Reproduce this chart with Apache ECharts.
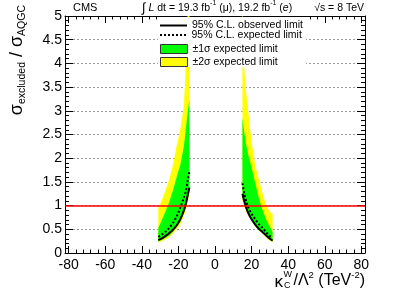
<!DOCTYPE html>
<html><head><meta charset="utf-8">
<script src="https://cdn.jsdelivr.net/npm/echarts@6/dist/echarts.min.js"></script>
<style>html,body{margin:0;padding:0;background:#fff}#c{width:407px;height:292px}</style>
</head><body><div id="c"></div>
<script>
// ---- data ----
const xMin = -82, xMax = 82;
const yMin = 0, yMax = 5, yStep = 0.5;
const refLine = 1;

const leftX        = [-31, -29, -27, -25, -23, -21, -19, -17, -16, -15, -14];
const leftYellowUp = [0.95, 1.12, 1.33, 1.55, 1.85, 2.25, 2.6, 3.1, 3.9, 5.0, 5.5];
const leftYellowLo = [0.22, 0.25, 0.29, 0.34, 0.41, 0.5, 0.6, 0.78, 0.9, 1.05, 1.3];
const leftGreenUp  = [0.52, 0.7, 0.88, 1.08, 1.32, 1.6, 1.85, 2.25, 2.6, 2.95, 3.25];
const leftGreenLo  = [0.25, 0.28, 0.32, 0.37, 0.45, 0.55, 0.66, 0.85, 0.98, 1.13, 1.35];
const leftObs      = [0.27, 0.31, 0.36, 0.42, 0.49, 0.58, 0.71, 0.9, 1.03, 1.2, 1.38];
const leftExp      = [0.34, 0.39, 0.45, 0.53, 0.63, 0.77, 0.95, 1.17, 1.3, 1.5, 1.72];

const rightX        = [15, 16, 17, 18, 20, 22, 24, 26, 28, 30, 31.5];
const rightYellowUp = [5.5, 3.9, 3.4, 3.05, 2.35, 1.85, 1.55, 1.25, 1.0, 0.87, 0.82];
const rightYellowLo = [1.12, 0.97, 0.88, 0.8, 0.68, 0.56, 0.47, 0.4, 0.32, 0.26, 0.23];
const rightGreenUp  = [2.85, 2.55, 2.3, 2.1, 1.8, 1.47, 1.15, 0.9, 0.7, 0.55, 0.45];
const rightGreenLo  = [1.2, 1.05, 0.93, 0.83, 0.69, 0.58, 0.49, 0.42, 0.35, 0.28, 0.25];
const rightObs      = [1.25, 1.09, 0.96, 0.86, 0.71, 0.6, 0.51, 0.44, 0.37, 0.3, 0.26];
const rightExp      = [1.47, 1.25, 1.1, 0.98, 0.83, 0.71, 0.61, 0.53, 0.44, 0.36, 0.32];

const names = {
  obs: '95% C.L. observed limit',
  exp: '95% C.L. expected limit',
  s1: '±1σ expected limit',
  s2: '±2σ expected limit'
};
// ---------------------------------------

const F = 'Liberation Sans, Arial, Helvetica, sans-serif';
const GREEN = '#00ff00', YELLOW = '#ffff00';
const DOTS = 'path://M0,0h2v2h-2zM4,0h2v2h-2zM8,0h2v2h-2zM12,0h2v2h-2zM16,0h2v2h-2zM20,0h2v2h-2zM24,0h2v2h-2z';

function pairs(xs, ys) { return xs.map((x, i) => [x, ys[i]]); }

function band(name, xs, lo, up, color) {
  return {
    type: 'custom', name, coordinateSystem: 'cartesian2d',
    itemStyle: { color }, clip: true, silent: true,
    data: [[xs[0], lo[0]]],
    renderItem: function (params, api) {
      const pts = [];
      for (let i = 0; i < xs.length; i++) pts.push(api.coord([xs[i], up[i]]));
      for (let i = xs.length - 1; i >= 0; i--) pts.push(api.coord([xs[i], lo[i]]));
      const cs = params.coordSys;
      return {
        type: 'polygon', shape: { points: pts }, style: { fill: color, stroke: null },
        clipPath: { type: 'rect', shape: { x: cs.x, y: cs.y, width: cs.width, height: cs.height } }
      };
    }
  };
}

function line(name, xs, ys, dashed) {
  return {
    type: 'line', name, data: pairs(xs, ys), symbol: 'none', smooth: 0.3,
    itemStyle: { color: '#000' },
    lineStyle: { color: '#000', width: 2, type: dashed ? [2, 2] : 'solid' },
    z: 3
  };
}

const axisLine = { show: true, onZero: false, lineStyle: { color: '#000', width: 1 } };

function leg(name, top, extra, h) {
  return {
    data: [Object.assign({ name }, extra || {})],
    left: 160, top, padding: 0, itemGap: 0, itemWidth: 27, itemHeight: h || 9,
    selectedMode: false, z: 5,
    textStyle: { fontSize: 10.5, fontFamily: F, color: '#000' }
  };
}

const chart = echarts.init(document.getElementById('c'), null, { renderer: 'canvas' });
chart.setOption({
  animation: false,
  backgroundColor: '#fff',
  grid: { left: 65, right: 42, top: 16, bottom: 39 },
  xAxis: [
    {
      type: 'value', min: xMin, max: xMax, splitNumber: 8, position: 'bottom',
      axisLine, splitLine: { show: false },
      axisTick: { show: true, inside: true, length: 7, lineStyle: { color: '#000' } },
      minorTick: { show: true, splitNumber: 5, length: 3.5, lineStyle: { color: '#000' } },
      axisLabel: { fontSize: 14, fontFamily: F, color: '#000', margin: 5, showMinLabel: false, showMaxLabel: false }
    },
    {
      type: 'value', min: xMin, max: xMax, splitNumber: 8, position: 'top',
      axisLine, splitLine: { show: false },
      axisTick: { show: true, inside: true, length: 7, lineStyle: { color: '#000' } },
      minorTick: { show: true, splitNumber: 5, length: 3.5, lineStyle: { color: '#000' } },
      axisLabel: { show: false }
    }
  ],
  yAxis: [
    {
      type: 'value', min: yMin, max: yMax, interval: yStep, position: 'left',
      axisLine,
      axisTick: { show: true, inside: true, length: 8, lineStyle: { color: '#000' } },
      minorTick: { show: true, splitNumber: 5, length: 4, lineStyle: { color: '#000' } },
      axisLabel: { fontSize: 14, fontFamily: F, color: '#000', margin: 3 },
      splitLine: { show: true, lineStyle: { color: '#999', type: [2, 2], width: 1 } }
    },
    {
      type: 'value', min: yMin, max: yMax, interval: yStep, position: 'right',
      axisLine, splitLine: { show: false },
      axisTick: { show: true, inside: true, length: 8, lineStyle: { color: '#000' } },
      minorTick: { show: true, splitNumber: 5, length: 4, lineStyle: { color: '#000' } },
      axisLabel: { show: false }
    }
  ],
  legend: [
    leg(names.obs, 20, { icon: 'rect', itemStyle: { color: '#000', borderWidth: 0 } }, 2),
    leg(names.exp, 29.5, { icon: DOTS, itemStyle: { color: '#000', borderWidth: 0 } }, 2),
    leg(names.s1, 43.5, { icon: 'rect', itemStyle: { color: GREEN, borderColor: '#333', borderWidth: 1 } }),
    leg(names.s2, 56.5, { icon: 'rect', itemStyle: { color: YELLOW, borderColor: '#333', borderWidth: 1 } })
  ],
  graphic: [
    { type: 'rect', z: 3, silent: true, shape: { x: 158, y: 17, width: 148, height: 50 }, style: { fill: '#fff' } },
    { type: 'text', left: 73, top: 2, silent: true, style: { text: 'CMS', font: '11px ' + F, fill: '#000' } },
    { type: 'text', x: 142, y: 8, silent: true, style: {
        text: '{int|∫} {it|L} dt = 19.3 fb{sup|-1} (μ), 19.2 fb{sup|-1} ({it|e})',
        verticalAlign: 'middle', fill: '#000', fontSize: 10.5, fontFamily: F,
        rich: {
          int: { fontSize: 13, fontFamily: F, lineHeight: 16 },
          it: { fontSize: 10.5, fontStyle: 'italic', fontFamily: F, lineHeight: 16 },
          sup: { fontSize: 7, fontFamily: F, verticalAlign: 'top', lineHeight: 8 }
        }
    } },
    { type: 'text', x: 364, y: 8, silent: true, style: {
        text: '√s = 8 TeV', align: 'right', verticalAlign: 'middle', font: '10.5px ' + F, fill: '#000' } },
    { type: 'text', x: 17, y: 5, rotation: Math.PI / 2, silent: true, style: {
        text: '{s|σ}{sub|excluded}{s| / σ}{sub|AQGC}',
        align: 'right', verticalAlign: 'middle', fill: '#000',
        rich: {
          s: { fontSize: 18, fontFamily: F, lineHeight: 22 },
          sub: { fontSize: 10.5, fontFamily: F, verticalAlign: 'bottom', lineHeight: 12 }
        }
    } },
    { type: 'text', x: 283, y: 282, silent: true, style: {
        text: 'κ', align: 'right', verticalAlign: 'middle', font: '17px ' + F, fill: '#000' } },
    { type: 'text', x: 283.5, y: 275, silent: true, style: {
        text: 'W', align: 'left', verticalAlign: 'middle', font: '9px ' + F, fill: '#000' } },
    { type: 'text', x: 284, y: 285.5, silent: true, style: {
        text: 'C', align: 'left', verticalAlign: 'middle', font: '9px ' + F, fill: '#000' } },
    { type: 'text', x: 365, y: 281, silent: true, style: {
        text: '{m|/Λ}{sup|2}{m| (TeV}{sup|-2}{m|)}',
        align: 'right', verticalAlign: 'middle', fill: '#000',
        rich: {
          m: { fontSize: 16, fontFamily: F, lineHeight: 22 },
          sup: { fontSize: 9.5, fontFamily: F, verticalAlign: 'top', lineHeight: 10 }
        }
    } }
  ],
  series: [
    band(names.s2, leftX, leftYellowLo, leftYellowUp, YELLOW),
    band(names.s2, rightX, rightYellowLo, rightYellowUp, YELLOW),
    band(names.s1, leftX, leftGreenLo, leftGreenUp, GREEN),
    band(names.s1, rightX, rightGreenLo, rightGreenUp, GREEN),
    line(names.exp, leftX, leftExp, true),
    line(names.exp, rightX, rightExp, true),
    Object.assign(line(names.obs, leftX, leftObs, false), {
      markLine: { silent: true, symbol: 'none', label: { show: false },
        lineStyle: { color: '#ff0000', width: 1.5, type: 'solid' }, data: [{ yAxis: refLine }] }
    }),
    line(names.obs, rightX, rightObs, false)
  ]
});
</script>
</body></html>
